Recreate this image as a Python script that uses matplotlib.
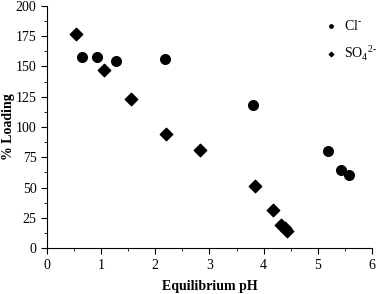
import matplotlib
matplotlib.use("Agg")
import matplotlib.pyplot as plt
from matplotlib.ticker import MultipleLocator

plt.rcParams['font.family'] = ['Liberation Serif', 'DejaVu Serif']
plt.rcParams['mathtext.fontset'] = 'custom'
plt.rcParams['mathtext.rm'] = 'Liberation Serif'

# Cl- loading vs equilibrium pH
cl_ph = [0.65, 0.92, 1.27, 2.18, 3.80, 5.18, 5.42, 5.57]
cl_loading = [158, 157.5, 154.5, 156, 118, 80, 64.5, 60.5]

# SO4 2- loading vs equilibrium pH
so4_ph = [0.53, 1.05, 1.55, 2.20, 2.82, 3.84, 4.18, 4.33, 4.40, 4.43]
so4_loading = [176.5, 147, 123, 94.5, 81, 51, 31.5, 19, 17, 14]

fig = plt.figure(figsize=(3.78, 2.94), dpi=100)
ax = fig.add_axes([0.124, 0.156, 0.86, 0.824])

ax.scatter(cl_ph, cl_loading, marker='o', s=48, color='black',
           label=r'Cl$^{\text{-}}$', zorder=3)
ax.scatter(so4_ph, so4_loading, marker='D', s=40, color='black',
           label=r'SO$_4$$^{2\text{-}}$', zorder=3)

ax.set_xlim(0, 6)
ax.set_ylim(0, 200)
ax.xaxis.set_major_locator(MultipleLocator(1))
ax.xaxis.set_minor_locator(MultipleLocator(0.5))
ax.yaxis.set_major_locator(MultipleLocator(25))
ax.yaxis.set_minor_locator(MultipleLocator(12.5))
ax.tick_params(which='both', direction='out', labelsize=10)
ax.tick_params(which='major', length=4)
ax.tick_params(which='minor', length=2.5)

for side in ['top', 'right']:
    ax.spines[side].set_visible(False)

ax.set_xlabel('Equilibrium pH', fontweight='bold', fontsize=10)
ax.set_ylabel('% Loading', fontweight='bold', fontsize=10)
ax.xaxis.set_label_coords(0.5, -0.13)
ax.yaxis.set_label_coords(-0.098, 0.5)

leg = ax.legend(loc='upper right', bbox_to_anchor=(1.012, 0.954),
                bbox_transform=fig.transFigure, frameon=False, fontsize=10,
                markerscale=0.35, handletextpad=0.3, borderaxespad=0,
                labelspacing=0.75, handlelength=1.2)

fig.savefig('out.png', dpi=100)
